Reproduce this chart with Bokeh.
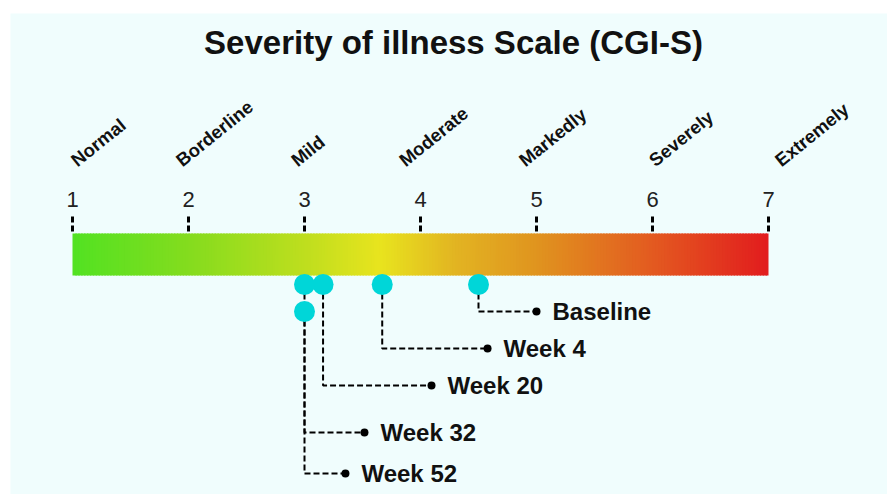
import numpy as np
from bokeh.plotting import figure
from bokeh.models import Range1d
from bokeh.core.properties import value
from bokeh.embed import file_html
from bokeh.resources import INLINE

# ---------------- data ----------------
scale_ticks = [1, 2, 3, 4, 5, 6, 7]
scale_names = ["Normal", "Borderline", "Mild", "Moderate", "Markedly", "Severely", "Extremely"]
visit_names = ["Baseline", "Week 4", "Week 20", "Week 32", "Week 52"]
visit_scores = [4.5, 3.67, 3.16, 3.0, 3.0]

# ---------------- layout (px from top of plot area / data x anchors) ----------------
name_label_x = [1.0, 1.905, 2.897, 3.828, 4.862, 5.983, 7.069]
dot_row_y = [271, 271, 271, 271, 298]
label_row_y = [298, 335, 372, 419, 460]
label_end_x = [5.0, 4.578, 4.095, 3.517, 3.353]

FONT = "Liberation Sans"
BG = "#f0fdfd"

k = 116.0
x_start = 1 - 62 / k
p = figure(width=887, height=494, output_backend="svg", toolbar_location=None,
           x_range=Range1d(x_start, x_start + 877 / k), y_range=Range1d(481, 0),
           min_border_left=10, min_border_top=13, min_border_right=0, min_border_bottom=0)
p.xaxis.visible = False
p.yaxis.visible = False
p.grid.visible = False
p.outline_line_color = None
p.background_fill_color = BG
p.border_fill_color = "white"

# title
p.text(x=[x_start + 443 / k], y=[29], text=["Severity of illness Scale (CGI-S)"],
       text_font=value(FONT), text_font_style="bold", text_font_size="33px",
       text_align="center", text_baseline="middle", text_color="#111111")

# category names (rotated)
p.text(x=name_label_x, y=[149] * 7, text=scale_names, angle=np.deg2rad(39), x_offset=1,
       text_font=value(FONT), text_font_style="bold", text_font_size="18.5px",
       text_align="left", text_baseline="middle", text_color="#111111")

# scale numbers
p.text(x=scale_ticks, y=[185.5] * 7, text=[str(t) for t in scale_ticks],
       text_font=value(FONT), text_font_size="22px",
       text_align="center", text_baseline="middle", text_color="#222222")

# dashed ticks
p.segment(x0=scale_ticks, y0=[203] * 7, x1=scale_ticks, y1=[220] * 7,
          line_color="black", line_width=3, line_dash="6 3")

# gradient bar
stops_x = [1, 2, 3, 3.65, 4.3, 5, 6, 7]
stops_c = ["#52e222", "#84dc1e", "#bede1e", "#e8e41e", "#e2b422", "#e0941f", "#e35a20", "#e21c1e"]
rgb = np.array([[int(c[i:i + 2], 16) for i in (1, 3, 5)] for c in stops_c], dtype=float)
n = 240
edges = np.linspace(scale_ticks[0], scale_ticks[-1], n + 1)
mids = (edges[:-1] + edges[1:]) / 2
cols = []
for m in mids:
    r, g, b = (np.interp(m, stops_x, rgb[:, j]) for j in range(3))
    cols.append("#%02x%02x%02x" % (int(round(r)), int(round(g)), int(round(b))))
right = edges[1:].copy()
right[:-1] += 0.012
p.quad(left=edges[:-1], right=right, top=[220] * n, bottom=[262] * n,
       fill_color=cols, line_color=None)

# connectors
xs, ys = [], []
for v, dy, ly, ex in zip(visit_scores, dot_row_y, label_row_y, label_end_x):
    xs.append([v, v, ex])
    ys.append([dy, ly, ly])
p.multi_line(xs=xs, ys=ys, line_color="black", line_width=2, line_dash="6 3")
p.scatter(x=label_end_x, y=label_row_y, size=8, marker="circle", fill_color="black", line_color=None)

# visit dots
p.scatter(x=visit_scores, y=dot_row_y, size=21, marker="circle", fill_color="#00d6d8", line_color=None)

# visit labels
p.text(x=label_end_x, y=label_row_y, text=visit_names, x_offset=16,
       text_font=value(FONT), text_font_style="bold", text_font_size="24px",
       text_align="left", text_baseline="middle", text_color="#111111")

open("out.html", "w").write(file_html(p, INLINE))
